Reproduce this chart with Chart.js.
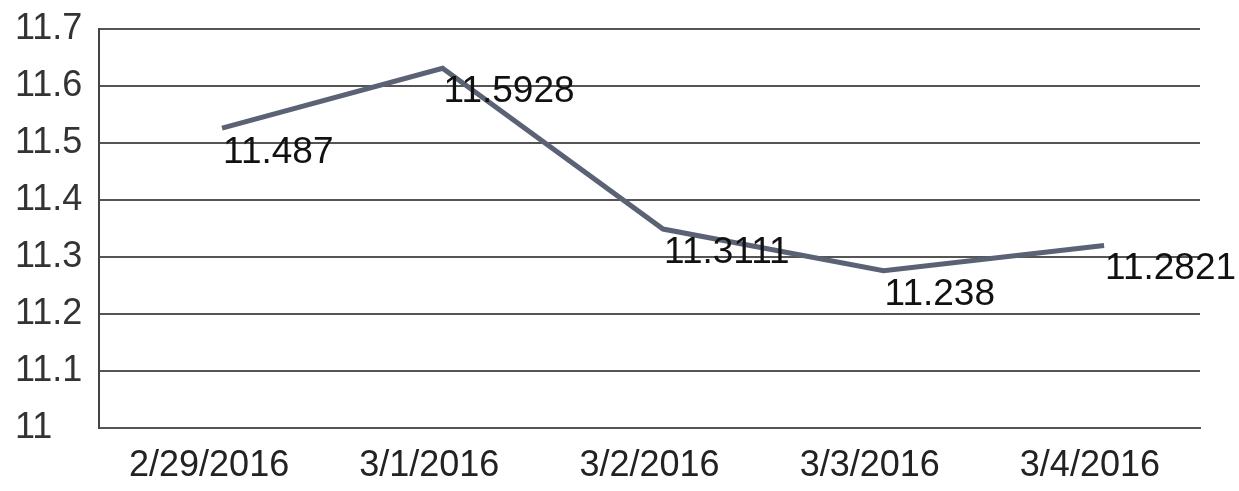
<!DOCTYPE html>
<html lang="en">
<head>
  <meta charset="UTF-8">
  <title>Line chart</title>
  <script src="https://cdn.jsdelivr.net/npm/chart.js"></script>
  <style>
    html, body { margin: 0; padding: 0; background: #fff; }
    .grafico { width: 1239px; height: 491px; }
  </style>
</head>
<body>
  <div class="grafico">
    <canvas id="id_grafico"></canvas>
  </div>

<script>
// data
const datas = ['2/29/2016', '3/1/2016', '3/2/2016', '3/3/2016', '3/4/2016'];
const linha = [11.526, 11.631, 11.349, 11.276, 11.320];   // where the line is drawn
const rotulos = [11.487, 11.5928, 11.3111, 11.238, 11.2821]; // the printed values
const eixoY = [11, 11.1, 11.2, 11.3, 11.4, 11.5, 11.6, 11.7];

const fonte = "'Liberation Sans', Arial, sans-serif";

// writes the value texts, left edge on the point, middle on its own value
const rotulosPlugin = {
  id: 'rotulos',
  afterDatasetsDraw(chart) {
    const ctx = chart.ctx;
    const x = chart.scales.x2;
    const y = chart.scales.y;
    ctx.save();
    ctx.font = '37px ' + fonte;
    ctx.fillStyle = '#111';
    ctx.textAlign = 'left';
    ctx.textBaseline = 'middle';
    for (var i = 0; i < rotulos.length; i++) {
      ctx.fillText(String(rotulos[i]), x.getPixelForValue(i) + 1, y.getPixelForValue(rotulos[i]) + 2);
    }
    ctx.restore();
  }
};

const ctx = document.getElementById('id_grafico').getContext('2d');
var grafico = new Chart(ctx, {
  type: 'line',
  data: {
    labels: datas,
    datasets: [
      {
        data: linha.map((v, i) => ({ x: i, y: v })),
        xAxisID: 'x2',
        borderColor: '#5b6275',
        borderWidth: 5,
        pointRadius: 0,
        tension: 0,
        fill: false
      }
    ]
  },
  options: {
    responsive: true,
    maintainAspectRatio: false,
    animation: false,
    layout: { padding: { left: 15, right: 39, top: 29, bottom: 0 } },
    plugins: {
      legend: { display: false },
      tooltip: { enabled: false }
    },
    scales: {
      x: {
        offset: true,
        grid: { display: false, drawTicks: false },
        border: { display: true, color: '#555', width: 2 },
        ticks: { color: '#222', padding: 16, maxRotation: 0, font: { size: 36, family: fonte } },
        afterFit(scale) { scale.height = 63; }
      },
      // the line sits a little right of the tick labels in the original
      x2: {
        type: 'linear',
        display: false,
        min: -0.558,
        max: 4.435
      },
      y: {
        min: eixoY[0],
        max: eixoY[eixoY.length - 1],
        afterBuildTicks(scale) { scale.ticks = eixoY.map(v => ({ value: v })); },
        grid: { color: '#555', lineWidth: 2, drawTicks: false },
        border: { display: true, color: '#444', width: 2 },
        ticks: {
          color: '#333',
          crossAlign: 'far',
          font: { size: 36, family: fonte },
          callback: v => String(Math.round(v * 10) / 10)
        },
        afterFit(scale) { scale.width = 84; }
      }
    }
  },
  plugins: [rotulosPlugin]
});
</script>
</body>
</html>
